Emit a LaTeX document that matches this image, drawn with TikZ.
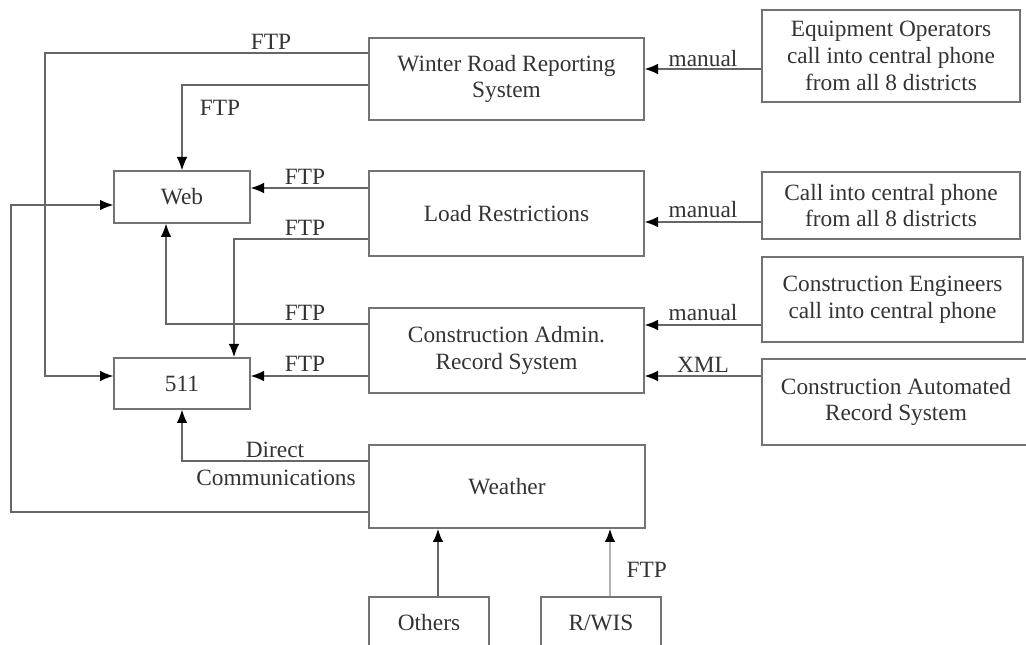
\documentclass[tikz,border=0pt]{standalone}
\usepackage{fontspec}
\setmainfont{Liberation Serif}
\usetikzlibrary{arrows.meta}

\begin{document}
\begin{tikzpicture}[x=0.75pt,y=-0.75pt,line width=1pt,>={Latex[length=10pt,width=8pt,black]},
  box/.style={draw=black!55,text=black!80,align=center,inner sep=0pt,font=\fontsize{17.5}{20}\selectfont},
  lbl/.style={text=black!80,anchor=base,inner sep=0pt,font=\fontsize{17.5}{20}\selectfont},
  link/.style={draw=black!60,->}]
\useasboundingbox (0,0) rectangle (1026,645);
% systems in the middle column
\node[box,minimum width=206.25pt,minimum height=61.5pt] (wrrs) at (506.5,79) {Winter Road Reporting\\System};
\node[box,minimum width=206.25pt,minimum height=63.75pt] (load) at (506.5,213.5) {Load Restrictions};
\node[box,minimum width=206.25pt,minimum height=63.75pt] (cars) at (506.5,350.5) {Construction Admin.\\Record System};
\node[box,minimum width=207pt,minimum height=62.25pt] (weather) at (507,486.5) {Weather};
% outputs
\node[box,minimum width=102pt,minimum height=39pt] (web) at (182,197) {Web};
\node[box,minimum width=102pt,minimum height=38.25pt] (n511) at (182,383.5) {511};
% sources on the right
\node[box,minimum width=193.5pt,minimum height=69pt] (equip) at (891,56) {Equipment Operators\\call into central phone\\from all 8 districts};
\node[box,minimum width=193.5pt,minimum height=50.25pt] (callin) at (891,205.5) {Call into central phone\\from all 8 districts};
\node[box,minimum width=195.75pt,minimum height=63.75pt] (engin) at (892.5,299.5) {Construction Engineers\\call into central phone};
\node[box,minimum width=201pt,minimum height=64.5pt] (autom) at (896,402) {Construction Automated\\Record System};
% weather sources
\node[box,minimum width=90pt,minimum height=38.25pt] (others) at (429,622.5) {Others};
\node[box,minimum width=90pt,minimum height=38.25pt] (rwis) at (601,622.5) {R/WIS};

\draw[link] (wrrs.west |- 0,53) -| (45,376) -- (n511.west |- 0,376);
\draw[link] (wrrs.west |- 0,85) -| (web.north);
\draw[link] (load.west |- 0,188) -- (web.east |- 0,188);
\draw[link,line width=1.6pt] (load.west |- 0,239) -| (n511.north -| 234,0);
\draw[link] (cars.west |- 0,324) -| (web.south -| 166,0);
\draw[link] (cars.west |- 0,376) -- (n511.east |- 0,376);
\draw[link] (equip.west |- 0,69) -- (wrrs.east |- 0,69);
\draw[link] (callin.west |- 0,222) -- (load.east |- 0,222);
\draw[link] (engin.west |- 0,325) -- (cars.east |- 0,325);
\draw[link] (autom.west |- 0,376) -- (cars.east |- 0,376);
\draw[link] (weather.west |- 0,461) -| (n511.south);
\draw[link] (weather.west |- 0,512) -| (11,205) -- (web.west |- 0,205);
\draw[link,line width=1.6pt] (others.north -| 438,0) -- (weather.south -| 438,0);
\draw[link,draw=black!30,line width=1.6pt] (rwis.north -| 610,0) -- (weather.south -| 610,0);

\node[lbl] (f1) at (271,50) {FTP};
\node[lbl] (f2) at (220,116) {FTP};
\node[lbl] (f3) at (305,185) {FTP};
\node[lbl] (f4) at (305,236) {FTP};
\node[lbl] (f5) at (305,321) {FTP};
\node[lbl] (f6) at (305,372) {FTP};
\node[lbl] (m1) at (703,67) {manual};
\node[lbl] (m2) at (703,218) {manual};
\node[lbl] (m3) at (703,321) {manual};
\node[lbl] (x1) at (703,373) {XML};
\node[lbl] (dc1) at (275,458) {Direct};
\node[lbl] (dc2) at (276,486) {Communications};
\node[lbl,anchor=base west] (f7) at (626,578) {FTP};
\end{tikzpicture}
\end{document}
